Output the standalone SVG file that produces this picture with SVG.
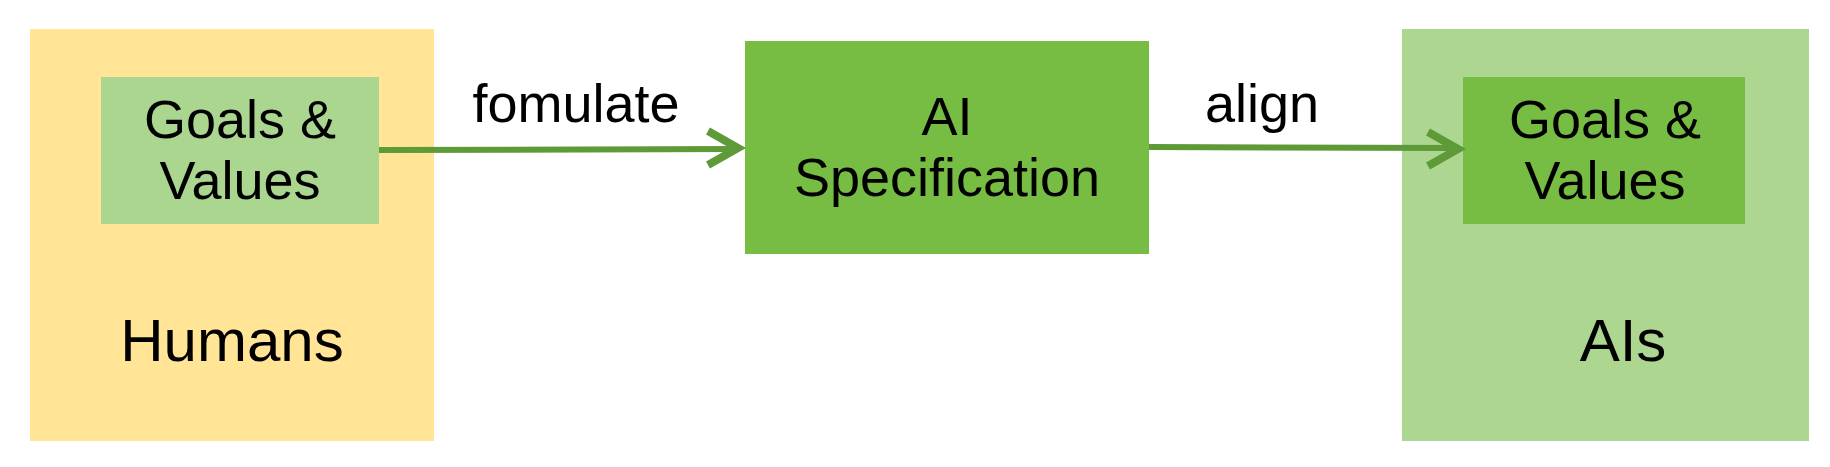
<svg xmlns="http://www.w3.org/2000/svg" width="1830" height="467" viewBox="0 0 1830 467">
<style>
  text { font-family: "Liberation Sans", Arial, sans-serif; fill: #000; text-anchor: middle; }
  .big { font-size: 60px; }
  .mid { font-size: 54px; }
  .lbl { font-size: 54px; }
  .conn { stroke: #5E9A38; stroke-width: 6; fill: none; }
  .head { stroke: #5E9A38; stroke-width: 8; fill: none; stroke-linejoin: miter; }
</style>
<rect width="1830" height="467" fill="#ffffff"/>
<g id="humans">
  <rect x="30" y="29" width="404" height="412" fill="#FFE595"/>
  <text class="big" x="232" y="361">Humans</text>
</g>
<g id="ais">
  <rect x="1402" y="29" width="407" height="412" fill="#ADD690"/>
  <text class="big" x="1623" y="361">AIs</text>
</g>
<g id="goals-humans">
  <rect x="101" y="77" width="278" height="147" fill="#ABD68F"/>
  <text class="mid" x="240" y="138">Goals &amp;</text>
  <text class="mid" x="240" y="199">Values</text>
</g>
<g id="ai-spec">
  <rect x="745" y="41" width="404" height="213" fill="#77BC43"/>
  <text class="mid" x="947" y="135">AI</text>
  <text class="mid" x="947" y="196">Specification</text>
</g>
<g id="goals-ais">
  <rect x="1463" y="77" width="282" height="147" fill="#77BC43"/>
  <text class="mid" x="1605" y="138">Goals &amp;</text>
  <text class="mid" x="1605" y="199">Values</text>
</g>
<g id="connectors">
  <line class="conn" x1="379" y1="150" x2="738" y2="149"/>
  <polyline class="head" points="708,131 738,148 708,165"/>
  <text class="lbl" x="576" y="122">fomulate</text>
  <line class="conn" x1="1149" y1="147" x2="1458" y2="148"/>
  <polyline class="head" points="1428,132 1458,149 1428,166"/>
  <text class="lbl" x="1262" y="122">align</text>
</g>
</svg>
